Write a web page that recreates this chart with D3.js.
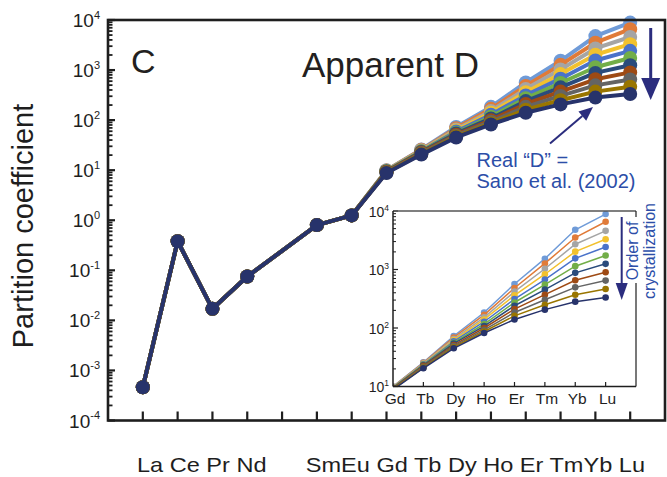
<!DOCTYPE html>
<html>
<head>
<meta charset="utf-8">
<script src="https://cdn.jsdelivr.net/npm/d3@7"></script>
<style>
  html, body { margin: 0; padding: 0; background: #fff; }
  svg { display: block; font-family: "Liberation Sans", Arial, sans-serif; }
</style>
</head>
<body>
<svg id="chart" width="667" height="477"></svg>
<script>
// ---------------- data ----------------
const elements = ["La","Ce","Pr","Nd","Pm","Sm","Eu","Gd","Tb","Dy","Ho","Er","Tm","Yb","Lu"];
const xLabelRow = "La Ce Pr Nd      SmEu Gd Tb Dy Ho Er TmYb Lu";
const insetElements = ["Gd","Tb","Dy","Ho","Er","Tm","Yb","Lu"];
// light REE part (La..Eu), shared by all steps; Pm has no value
const lreeD = [4.6e-4, 0.38, 0.017, 0.075, null, 0.80, 1.25];
// heavy REE part (Gd..Lu) for each crystallization step (top -> bottom)
const hreeStep1  = [10.0, 26.0, 73, 184, 566, 1530, 4770, 8870];
const hreeStep2  = [ 9.9, 25.5, 69, 168, 483, 1270, 3520, 6550];
const hreeStep3  = [ 9.8, 25.0, 65, 152, 418, 1030, 2700, 4580];
const hreeStep4  = [ 9.7, 24.5, 62, 140, 361,  830, 2020, 3290];
const hreeStep5  = [ 9.6, 24.0, 59, 128, 312,  673, 1550, 2420];
const hreeStep6  = [ 9.5, 23.5, 56, 117, 273,  551, 1140, 1740];
const hreeStep7  = [ 9.4, 23.0, 54, 108, 240,  452,  877, 1250];
const hreeStep8  = [ 9.3, 22.5, 51, 100, 210,  371,  655,  898];
const hreeStep9  = [ 9.1, 21.8, 49,  93, 184,  304,  495,  646];
const hreeStep10 = [ 9.0, 21.0, 47,  87, 161,  249,  371,  464];
const hreeStep11 = [ 8.8, 20.5, 45,  82, 140,  206,  282,  333];
const stepColors = ["#6f9bd8","#e07b39","#a5a5a5","#f2c12e","#4a72c9","#72ae48",
                    "#2a4b7c","#9e4a14","#646464","#997500","#27336b"];
const yDecades = [-4,-3,-2,-1,0,1,2,3,4];
const insetDecades = [1,2,3,4];

const hreeSteps = [hreeStep1,hreeStep2,hreeStep3,hreeStep4,hreeStep5,hreeStep6,
                   hreeStep7,hreeStep8,hreeStep9,hreeStep10,hreeStep11];
const series = hreeSteps.map((h, i) => ({
  color: stepColors[i],
  full: lreeD.concat(h).map((v, j) => ({i: j, v})),
  inset: h.map((v, j) => ({i: j, v}))
}));

// ---------------- drawing ----------------
const svg = d3.select("#chart");
const ink = "#1e1e1e";
const navy = "#2b2d7e";
const blueText = "#2c4ea8";

// main scales
const x = d3.scaleLinear().domain([-1, 15]).range([108, 665]);
const y = d3.scaleLog().domain([1e-4, 1e4]).range([420.5, 20]);

// y label
svg.append("text")
  .attr("transform", "translate(33,226) rotate(-90)")
  .attr("text-anchor", "middle")
  .attr("font-size", 29).attr("fill", ink)
  .text("Partition coefficient");

// y ticks (log, inward)
const minorVals = [];
yDecades.slice(0, -1).forEach(d => { for (let m = 2; m <= 9; m++) minorVals.push(m * Math.pow(10, d)); });
svg.append("g").selectAll("line.minor").data(minorVals).join("line")
  .attr("x1", 108).attr("x2", 112.5)
  .attr("y1", d => y(d)).attr("y2", d => y(d))
  .attr("stroke", ink).attr("stroke-width", 1.8);
svg.append("g").selectAll("line.major").data(yDecades).join("line")
  .attr("x1", 108).attr("x2", 115)
  .attr("y1", d => y(Math.pow(10, d))).attr("y2", d => y(Math.pow(10, d)))
  .attr("stroke", ink).attr("stroke-width", 2.2);
const yl = svg.append("g").selectAll("text").data(yDecades).join("text")
  .attr("x", 100).attr("y", d => y(Math.pow(10, d)) + 7)
  .attr("text-anchor", "end").attr("fill", ink).attr("font-size", 19);
yl.append("tspan").text("10");
yl.append("tspan").attr("font-size", 11).attr("dy", -8.5).text(d => String(d));

// x ticks (inward from bottom)
svg.append("g").selectAll("line").data(elements.map((e, i) => i)).join("line")
  .attr("x1", d => x(d)).attr("x2", d => x(d))
  .attr("y1", 420.5).attr("y2", 411.5)
  .attr("stroke", ink).attr("stroke-width", 2.2);

// x labels row
svg.append("text")
  .attr("x", 137).attr("y", 471.5)
  .attr("font-size", 21).attr("fill", ink)
  .attr("textLength", 508).attr("lengthAdjust", "spacingAndGlyphs")
  .style("white-space", "pre")
  .text(xLabelRow);

// main lines and markers
const line = d3.line().x(d => x(d.i)).y(d => y(d.v));
const mainG = svg.append("g");
series.forEach(s => {
  const pts = s.full.filter(d => d.v != null);
  mainG.append("path").datum(pts).attr("d", line)
    .attr("fill", "none").attr("stroke", s.color).attr("stroke-width", 4)
    .attr("stroke-linejoin", "round");
  mainG.selectAll(null).data(pts).join("circle")
    .attr("cx", d => x(d.i)).attr("cy", d => y(d.v)).attr("r", 7)
    .attr("fill", s.color);
});

// frame
svg.append("rect").attr("x", 108).attr("y", 20).attr("width", 557).attr("height", 400.5)
  .attr("fill", "none").attr("stroke", ink).attr("stroke-width", 2.6);

// labels
svg.append("text").attr("x", 131).attr("y", 73).attr("font-size", 34).attr("fill", "#231f20").text("C");
svg.append("text").attr("x", 302).attr("y", 77).attr("font-size", 35).attr("fill", "#231f20").text("Apparent D");

const defs = svg.append("defs");
defs.append("clipPath").attr("id", "insetClip").append("rect")
  .attr("x", 393).attr("y", 211).attr("width", 243).attr("height", 175.5);

function arrow(x1, y1, x2, y2, w, headLen, headW, color) {
  const ang = Math.atan2(y2 - y1, x2 - x1);
  const bx = x2 - headLen * Math.cos(ang), by = y2 - headLen * Math.sin(ang);
  svg.append("line").attr("x1", x1).attr("y1", y1).attr("x2", bx).attr("y2", by)
    .attr("stroke", color).attr("stroke-width", w);
  const px = -Math.sin(ang) * headW / 2, py = Math.cos(ang) * headW / 2;
  svg.append("path")
    .attr("d", `M${x2},${y2}L${bx + px},${by + py}L${bx - px},${by - py}Z`)
    .attr("fill", color);
}
// big order arrow
arrow(650.7, 28, 650.7, 100, 3, 22, 19, navy);
// annotation arrow
arrow(550, 143.5, 593, 107, 2, 14, 12, navy);

svg.append("text").attr("x", 476.5).attr("y", 166.5).attr("font-size", 20).attr("fill", blueText)
  .text("Real \u201CD\u201D =");
svg.append("text").attr("x", 476.5).attr("y", 188).attr("font-size", 20).attr("fill", blueText)
  .text("Sano et al. (2002)");

// ---------------- inset ----------------
const xi = d3.scaleLinear().domain([0, 8]).range([393, 636]);
const yi = d3.scaleLog().domain([10, 1e4]).range([386.5, 211]);

svg.append("rect").attr("x", 393).attr("y", 211).attr("width", 243).attr("height", 175.5).attr("fill", "#fff");

const insetG = svg.append("g").attr("clip-path", "url(#insetClip)");
const iline = d3.line().x(d => xi(d.i)).y(d => yi(d.v));
series.forEach(s => {
  insetG.append("path").datum(s.inset).attr("d", iline)
    .attr("fill", "none").attr("stroke", s.color).attr("stroke-width", 1.5);
  insetG.selectAll(null).data(s.inset).join("circle")
    .attr("cx", d => xi(d.i)).attr("cy", d => yi(d.v)).attr("r", 3.3)
    .attr("fill", s.color);
});

// inset ticks
const iminor = [];
insetDecades.slice(0, -1).forEach(d => { for (let m = 2; m <= 9; m++) iminor.push(m * Math.pow(10, d)); });
svg.append("g").selectAll("line").data(iminor).join("line")
  .attr("x1", 393).attr("x2", 396)
  .attr("y1", d => yi(d)).attr("y2", d => yi(d))
  .attr("stroke", ink).attr("stroke-width", 1);
svg.append("g").selectAll("line").data(insetDecades).join("line")
  .attr("x1", 393).attr("x2", 398)
  .attr("y1", d => yi(Math.pow(10, d))).attr("y2", d => yi(Math.pow(10, d)))
  .attr("stroke", ink).attr("stroke-width", 1.2);
svg.append("g").selectAll("line").data(insetElements.map((e, i) => i).slice(1)).join("line")
  .attr("x1", d => xi(d)).attr("x2", d => xi(d))
  .attr("y1", 386.5).attr("y2", 382)
  .attr("stroke", ink).attr("stroke-width", 1.2);

// inset frame
svg.append("line").attr("x1", 393).attr("x2", 636).attr("y1", 211).attr("y2", 211)
  .attr("stroke", "#555").attr("stroke-width", 1.3);
svg.append("line").attr("x1", 393).attr("x2", 393).attr("y1", 211).attr("y2", 386.5)
  .attr("stroke", ink).attr("stroke-width", 1.5);
svg.append("line").attr("x1", 393).attr("x2", 636).attr("y1", 386.5).attr("y2", 386.5)
  .attr("stroke", ink).attr("stroke-width", 1.5);
svg.append("line").attr("x1", 636).attr("x2", 636).attr("y1", 211).attr("y2", 386.5)
  .attr("stroke", ink).attr("stroke-width", 1.2);

// inset labels
const iyl = svg.append("g").selectAll("text").data(insetDecades).join("text")
  .attr("x", 389).attr("y", d => yi(Math.pow(10, d)) + 5.5)
  .attr("text-anchor", "end").attr("fill", ink).attr("font-size", 14);
iyl.append("tspan").text("10");
iyl.append("tspan").attr("font-size", 8.5).attr("dy", -6).text(d => d);
svg.append("g").selectAll("text").data(insetElements).join("text")
  .attr("x", (d, i) => xi(i) + 2).attr("y", 404)
  .attr("text-anchor", "middle").attr("fill", ink).attr("font-size", 15.5)
  .text(d => d);

// order of crystallization
svg.append("rect").attr("x", 625).attr("y", 217).attr("width", 16).attr("height", 66).attr("fill", "#fff");
arrow(621.7, 217, 621.7, 300, 2, 17, 12, navy);
svg.append("text").attr("transform", "translate(638,251) rotate(-90)")
  .attr("text-anchor", "middle").attr("font-size", 16).attr("fill", blueText).text("Order of");
svg.append("text").attr("transform", "translate(654.5,251) rotate(-90)")
  .attr("text-anchor", "middle").attr("font-size", 16).attr("fill", blueText).text("crystallization");
</script>
</body>
</html>
